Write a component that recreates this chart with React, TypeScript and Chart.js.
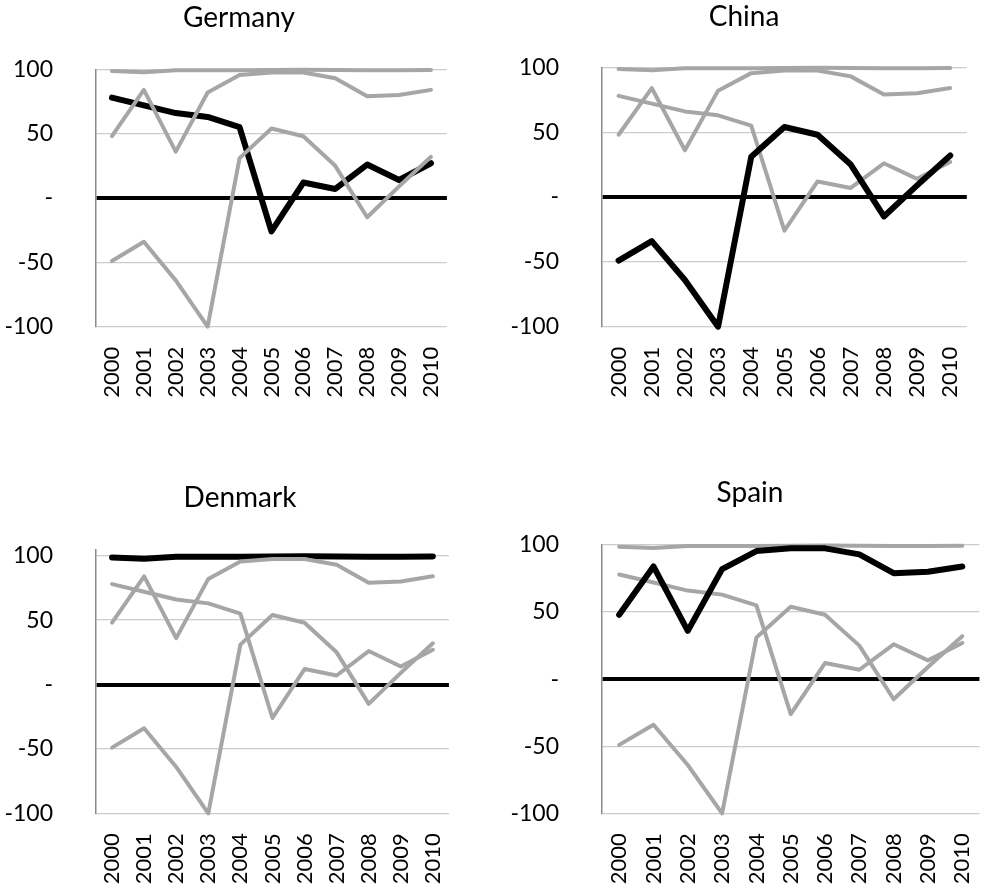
import React, { useEffect, useRef } from 'react';
import { Chart, registerables } from 'chart.js';

Chart.register(...registerables);

// ---- data ----
const years = ['2000', '2001', '2002', '2003', '2004', '2005', '2006', '2007', '2008', '2009', '2010'];
const countries = ['Germany', 'China', 'Denmark', 'Spain'];
const germany = [78, 72, 66, 63, 55, -26, 12, 7, 26, 14, 27];
const china = [-49, -34, -64, -100, 31, 54, 48, 25, -15, 9, 32];
const denmark = [98.7, 97.7, 99.3, 99.3, 99.3, 99.5, 99.6, 99.5, 99.2, 99.3, 99.5];
const spain = [48, 84, 36, 82, 95.5, 97.5, 97.5, 93, 79, 80, 84];
const seriesValues = [germany, china, denmark, spain];
const yTickValues = [-100, -50, 0, 50, 100];
const zeroTickLabel = '-';

// ---- layout (positions / sizes only) ----
type PanelCfg = {
  highlight: number;
  left: number;
  top: number;
  width: number;
  height: number;
  yAxisWidth: number;
  rightInset: number;
  titlePadTop: number;
  titlePadBottom: number;
  xAxisHeight: number;
  yMax: number;
};

const panels: PanelCfg[] = [
  { highlight: 0, left: 0, top: 0, width: 478, height: 400, yAxisWidth: 96, rightInset: 14, titlePadTop: 1.5, titlePadBottom: 34.2, xAxisHeight: 73.3, yMax: 100 },
  { highlight: 1, left: 490, top: 0, width: 508, height: 400, yAxisWidth: 112, rightInset: 30, titlePadTop: 0, titlePadBottom: 33.7, xAxisHeight: 73.3, yMax: 100 },
  { highlight: 2, left: 0, top: 440, width: 480, height: 454, yAxisWidth: 96, rightInset: 16, titlePadTop: 40.9, titlePadBottom: 34.8, xAxisHeight: 80.7, yMax: 105 },
  { highlight: 3, left: 490, top: 440, width: 520, height: 454, yAxisWidth: 112, rightInset: 29, titlePadTop: 35.9, titlePadBottom: 35.5, xAxisHeight: 80.7, yMax: 100 },
];

const FONT = 'Lato, "Open Sans", sans-serif';
const GRAY = '#a6a6a6';
const BLACK = '#000000';

function Panel({ cfg }: { cfg: PanelCfg }) {
  const ref = useRef<HTMLCanvasElement>(null);

  useEffect(() => {
    const canvas = ref.current;
    if (!canvas) return;
    const datasets = countries.map((name, i) => {
      const hi = i === cfg.highlight;
      return {
        label: name,
        data: seriesValues[i],
        borderColor: hi ? BLACK : GRAY,
        backgroundColor: hi ? BLACK : GRAY,
        borderWidth: hi ? 6 : 4,
        pointRadius: 0,
        pointHoverRadius: 0,
        tension: 0,
        fill: false,
        borderJoinStyle: 'round' as const,
        borderCapStyle: 'round' as const,
        clip: false as const,
        order: countries.length - i,
      };
    });

    const chart = new Chart(canvas, {
      type: 'line',
      data: { labels: years, datasets },
      options: {
        animation: false,
        responsive: false,
        maintainAspectRatio: false,
        devicePixelRatio: 1,
        layout: { padding: 0 },
        events: [],
        plugins: {
          legend: { display: false },
          tooltip: { enabled: false },
          title: {
            display: true,
            text: countries[cfg.highlight],
            color: '#000',
            font: { family: FONT, size: 28, weight: 'normal', lineHeight: 1.2 },
            padding: { top: cfg.titlePadTop, bottom: cfg.titlePadBottom },
          },
        },
        scales: {
          x: {
            type: 'category',
            offset: true,
            grid: { display: false, drawTicks: false },
            border: { display: false },
            ticks: {
              autoSkip: false,
              minRotation: 90,
              maxRotation: 90,
              padding: 20,
              color: '#000',
              font: { family: FONT, size: 22 },
            },
            afterFit: (s: any) => {
              s.height = cfg.xAxisHeight;
            },
          },
          y: {
            type: 'linear',
            position: 'left',
            min: -100,
            max: cfg.yMax,
            afterBuildTicks: (s: any) => {
              s.ticks = yTickValues.map((v) => ({ value: v }));
            },
            ticks: {
              padding: 43,
              color: '#000',
              font: { family: FONT, size: 23 },
              callback: (v: any) => (Number(v) === 0 ? zeroTickLabel : String(v)),
            },
            grid: {
              drawTicks: false,
              color: (c: any) => (c.tick && c.tick.value === 0 ? '#000000' : '#cccccc'),
              lineWidth: (c: any) => (c.tick && c.tick.value === 0 ? 4 : 1.3),
            },
            border: { display: true, color: '#8a8a8a', width: 1.5 },
            afterFit: (s: any) => {
              s.width = cfg.yAxisWidth;
            },
          },
          yR: {
            type: 'linear',
            position: 'right',
            display: true,
            grid: { display: false, drawTicks: false },
            border: { display: false },
            ticks: { display: false },
            afterFit: (s: any) => {
              s.width = cfg.rightInset;
            },
          },
        },
      } as any,
    });
    return () => chart.destroy();
  }, [cfg]);

  return (
    <canvas
      ref={ref}
      width={cfg.width}
      height={cfg.height}
      style={{ position: 'absolute', left: cfg.left, top: cfg.top, width: cfg.width, height: cfg.height }}
    />
  );
}

export default function App() {
  return (
    <div
      style={{
        position: 'absolute',
        left: 0,
        top: 0,
        width: 981,
        height: 894,
        overflow: 'hidden',
        background: '#ffffff',
      }}
    >
      {panels.map((p, i) => (
        <Panel key={i} cfg={p} />
      ))}
    </div>
  );
}
